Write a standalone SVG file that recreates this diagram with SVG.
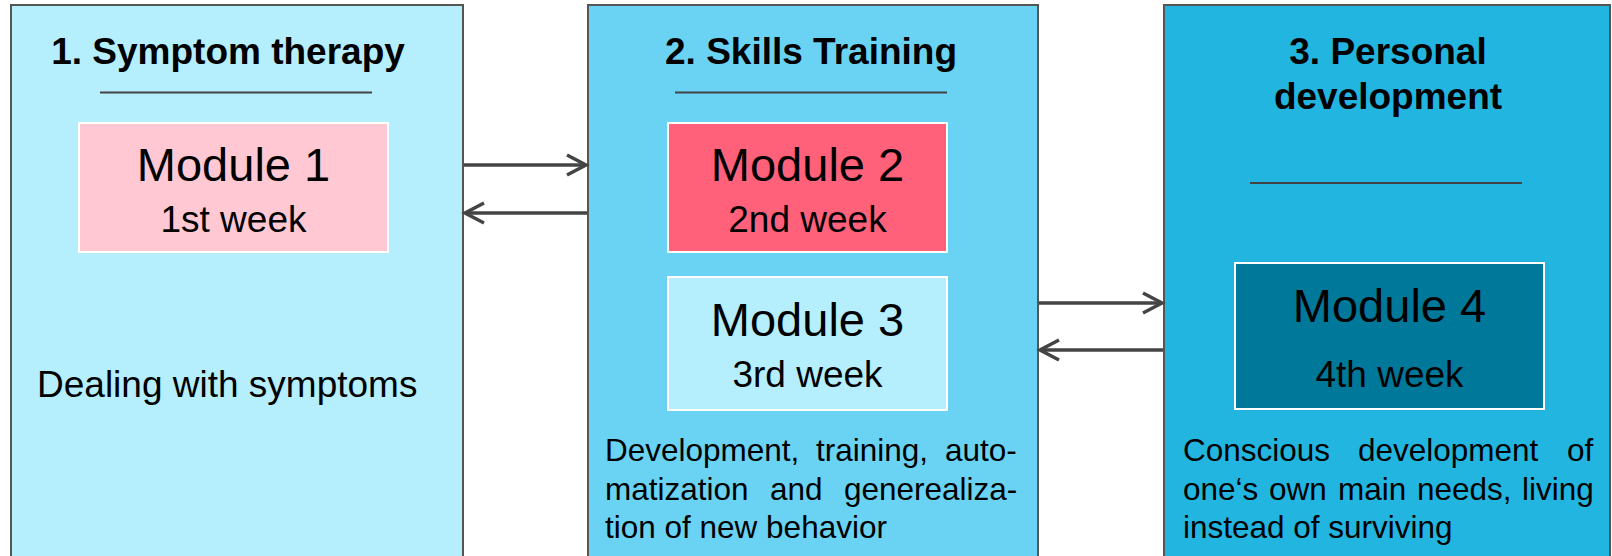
<svg xmlns="http://www.w3.org/2000/svg" width="1612" height="556" viewBox="0 0 1612 556">
<style>
.stage{stroke:#555;stroke-width:2}
.mod{stroke:#fff;stroke-width:2}
.t{font-family:"Liberation Sans",Arial,sans-serif;fill:#000}
.title{font-size:37px;font-weight:bold;text-anchor:middle}
.mname{font-size:47px;text-anchor:middle}
.week{font-size:37px;text-anchor:middle}
.desc{font-size:31.5px}
.rule{stroke:#444;stroke-width:2}
.conn{stroke:#444;stroke-width:3.5;fill:none}
</style>
<defs>
<marker id="arr" markerUnits="userSpaceOnUse" markerWidth="26" markerHeight="26" viewBox="-22 -13 26 26" refX="0" refY="0" orient="auto">
<path d="M-19,-10 L0,0 L-19,10" fill="none" stroke="#444" stroke-width="3.5"/>
</marker>
</defs>
<rect width="1612" height="556" fill="#fff"/>
<g id="stage1">
<rect class="stage" x="11" y="5" width="452" height="600" fill="#B5EEFC"/>
<text class="t title" x="228" y="64">1. Symptom therapy</text>
<line class="rule" x1="100" y1="92.5" x2="372" y2="92.5"/>
<text class="t" x="37" y="397" font-size="37">Dealing with symptoms</text>
</g>
<g id="module1">
<rect class="mod" x="79" y="123" width="309" height="129" fill="#FFC8D2"/>
<text class="t mname" x="233.5" y="181">Module 1</text>
<text class="t week" x="233.5" y="232">1st week</text>
</g>
<g id="stage2">
<rect class="stage" x="588" y="5" width="450" height="600" fill="#6AD3F3"/>
<text class="t title" x="811" y="64">2. Skills Training</text>
<line class="rule" x1="675" y1="92.5" x2="947" y2="92.5"/>
<text class="t desc" y="461"><tspan x="605">Development,</tspan><tspan x="816">training,</tspan><tspan x="945">auto-</tspan></text>
<text class="t desc" y="500"><tspan x="605">matization</tspan><tspan x="770">and</tspan><tspan x="844">generealiza-</tspan></text>
<text class="t desc" x="605" y="538">tion of new behavior</text>
</g>
<g id="module2">
<rect class="mod" x="668" y="123" width="279" height="129" fill="#FF607A"/>
<text class="t mname" x="807.5" y="181">Module 2</text>
<text class="t week" x="807.5" y="232">2nd week</text>
</g>
<g id="module3">
<rect class="mod" x="668" y="277" width="279" height="133" fill="#B5EEFC"/>
<text class="t mname" x="807.5" y="336">Module 3</text>
<text class="t week" x="807.5" y="387">3rd week</text>
</g>
<g id="stage3">
<rect class="stage" x="1164" y="5" width="446" height="600" fill="#22B5E0"/>
<text class="t title" x="1388" y="64">3. Personal</text>
<text class="t title" x="1388" y="109">development</text>
<line class="rule" x1="1250" y1="183" x2="1522" y2="183"/>
<text class="t desc" y="461"><tspan x="1183">Conscious</tspan><tspan x="1358">development</tspan><tspan x="1567">of</tspan></text>
<text class="t desc" y="500"><tspan x="1183">one‘s</tspan><tspan x="1269">own</tspan><tspan x="1338">main</tspan><tspan x="1417">needs,</tspan><tspan x="1522">living</tspan></text>
<text class="t desc" x="1183" y="538">instead of surviving</text>
</g>
<g id="module4">
<rect class="mod" x="1235" y="263" width="309" height="146" fill="#00789A"/>
<text class="t mname" x="1389.5" y="322">Module 4</text>
<text class="t week" x="1389.5" y="387">4th week</text>
</g>
<g id="connectors">
<line class="conn" x1="464" y1="165" x2="586" y2="165" marker-end="url(#arr)"/>
<line class="conn" x1="587" y1="213" x2="465" y2="213" marker-end="url(#arr)"/>
<line class="conn" x1="1039" y1="303" x2="1162" y2="303" marker-end="url(#arr)"/>
<line class="conn" x1="1163" y1="350" x2="1040" y2="350" marker-end="url(#arr)"/>
</g>
</svg>
